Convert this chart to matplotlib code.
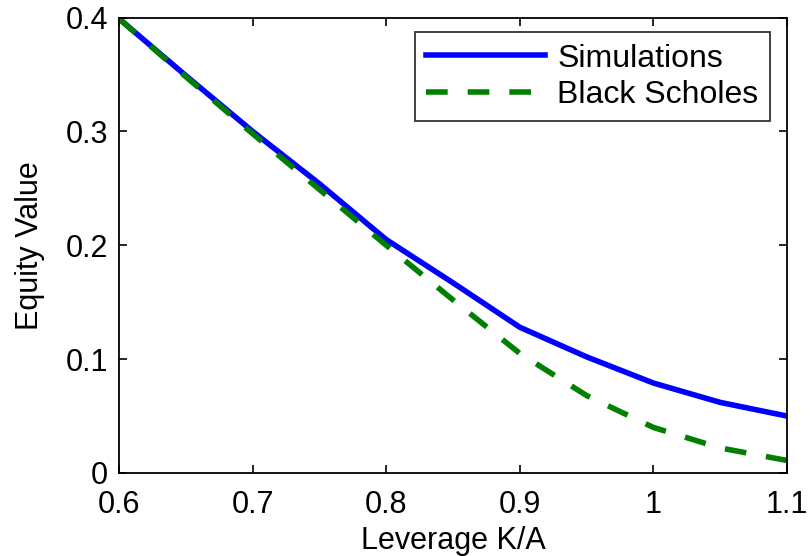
import matplotlib
matplotlib.use("Agg")
import matplotlib.pyplot as plt

leverage = [0.6, 0.65, 0.7, 0.75, 0.8, 0.85, 0.9, 0.95, 1.0, 1.05, 1.1]
simulations = [0.399, 0.349, 0.300, 0.254, 0.205, 0.167, 0.128, 0.102, 0.079, 0.062, 0.050]
black_scholes = [0.399, 0.348, 0.298, 0.249, 0.200, 0.152, 0.105, 0.068, 0.040, 0.022, 0.011]
x_ticks = [0.6, 0.7, 0.8, 0.9, 1.0, 1.1]
x_tick_labels = ['0.6', '0.7', '0.8', '0.9', '1', '1.1']
y_ticks = [0, 0.1, 0.2, 0.3, 0.4]
y_tick_labels = ['0', '0.1', '0.2', '0.3', '0.4']

plt.rcParams['font.family'] = ['Liberation Sans', 'DejaVu Sans']

fig = plt.figure(figsize=(8.11, 5.56), dpi=100)
ax = fig.add_axes([0.1467, 0.1493, 0.8237, 0.8192])

ax.plot(leverage, simulations, color='#0000ff', lw=4.0, label='Simulations')
ax.plot(leverage, black_scholes, color='#008000', lw=4.0, linestyle=(0, (3.9, 3.6)),
        label='Black Scholes')

ax.set_xlim(0.6, 1.1)
ax.set_ylim(0, 0.4)
ax.set_xticks(x_ticks)
ax.set_xticklabels(x_tick_labels)
ax.set_yticks(y_ticks)
ax.set_yticklabels(y_tick_labels)
ax.tick_params(direction='in', top=True, right=True, labelsize=22, length=6, width=1.2)
ax.tick_params(axis='x', pad=12.5)
ax.tick_params(axis='y', pad=8)
for s in ax.spines.values():
    s.set_linewidth(1.3)

ax.set_xlabel('Leverage K/A', fontsize=22, labelpad=4)
ax.set_ylabel('Equity Value', fontsize=22, labelpad=15)

leg = ax.legend(loc='upper right', fontsize=23, frameon=True, fancybox=False,
                edgecolor='black', handlelength=3.7, borderpad=0.36, labelspacing=0.2,
                handletextpad=0.4, borderaxespad=0.0, bbox_to_anchor=(0.9745, 0.968))
leg.get_frame().set_linewidth(1.3)

fig.savefig('out.png', dpi=100)
